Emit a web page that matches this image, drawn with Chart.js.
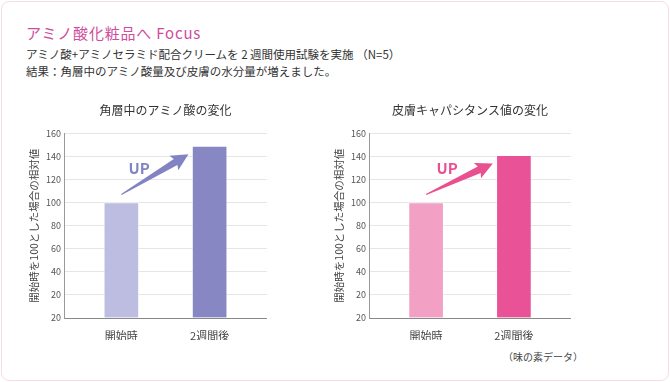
<!DOCTYPE html>
<html>
<head>
<meta charset="utf-8">
<script src="https://cdn.jsdelivr.net/npm/chart.js@4"></script>
<style>
  body { margin: 0; background: #fff; font-family: "Noto Sans CJK JP", "Noto Sans", sans-serif; }
  #card { position: absolute; left: 1px; top: 1px; width: 666px; height: 378px; border: 1px solid #f3dde8; border-radius: 8px; background: #fff; }
  #head { position: absolute; left: 26px; top: 22px; font-size: 15px; letter-spacing: 0.8px; color: #cf4c9c; white-space: nowrap; }
  .sub { position: absolute; left: 26px; font-size: 11.5px; color: #333; white-space: nowrap; }
  #note { position: absolute; left: 503px; top: 349px; font-size: 10px; color: #444; white-space: nowrap; }
  .box { position: absolute; top: 95px; height: 245px; }
</style>
</head>
<body>
<div id="card"></div>
<div id="head">アミノ酸化粧品へ Focus</div>
<div class="sub" style="top:46px">アミノ酸+アミノセラミド配合クリームを 2 週間使用試験を実施 （N=5）</div>
<div class="sub" style="top:63px">結果：角層中のアミノ酸量及び皮膚の水分量が増えました。</div>
<div class="box" style="left:22px;width:245px"><canvas id="chartA"></canvas></div>
<div class="box" style="left:327px;width:244px"><canvas id="chartB"></canvas></div>
<div id="note">（味の素データ）</div>
<script>
const categories = ['開始時', '2週間後'];
const aminoValues = [100, 149];
const capacitanceValues = [100, 141];
const yTickLabels = ['20', '20', '40', '60', '80', '100', '120', '140', '160'];

const FONT = '"Noto Sans CJK JP", "Noto Sans", sans-serif';

// tapered "UP" arrow drawn from the first bar toward the second one
const upArrow = {
    id: 'upArrow',
    afterDatasetsDraw(chart, args, opts) {
        const x = chart.scales.x, y = chart.scales.y;
        const vals = chart.data.datasets[0].data;
        const x0 = x.getPixelForValue(0), y0 = y.getPixelForValue(vals[0].y + 7);
        const x1 = x.getPixelForValue(0.76), y1 = y.getPixelForValue(vals[1].y - 7);
        const dx = x1 - x0, dy = y1 - y0, len = Math.hypot(dx, dy);
        const ux = dx / len, uy = dy / len, nx = -uy, ny = ux;
        const bx = x1 - ux * 15, by = y1 - uy * 15;
        const c = chart.ctx;
        c.save();
        c.fillStyle = opts.color;
        c.beginPath();
        c.moveTo(x0 + nx * 0.5, y0 + ny * 0.5);
        c.lineTo(bx + nx * 3.5, by + ny * 3.5);
        c.lineTo(bx - ux * 2 + nx * 8.5, by - uy * 2 + ny * 8.5);
        c.lineTo(x1, y1);
        c.lineTo(bx - ux * 2 - nx * 8.5, by - uy * 2 - ny * 8.5);
        c.lineTo(bx - nx * 3.5, by - ny * 3.5);
        c.lineTo(x0 - nx * 0.5, y0 - ny * 0.5);
        c.closePath();
        c.fill();
        c.font = 'bold 15px ' + FONT;
        c.textAlign = 'center';
        c.textBaseline = 'middle';
        c.fillText('UP', x.getPixelForValue(opts.textX), y.getPixelForValue(130));
        c.restore();
    }
};

function makeChart(id, title, values, colors, arrowColor, textX) {
    return new Chart(document.getElementById(id), {
        type: 'bar',
        data: {
            datasets: [{
                data: values.map((v, i) => ({ x: i, y: v })),
                backgroundColor: colors,
                borderColor: 'rgba(255,255,255,0.35)',
                borderWidth: 1,
                barThickness: 35
            }]
        },
        options: {
            responsive: true,
            maintainAspectRatio: false,
            animation: false,
            layout: { padding: 0 },
            plugins: {
                legend: { display: false },
                tooltip: { enabled: false },
                title: {
                    display: true,
                    text: title,
                    fullSize: false,
                    color: '#333',
                    font: { size: 12, family: FONT, weight: 'normal' },
                    padding: { top: 8, bottom: 16 }
                },
                upArrow: { color: arrowColor, textX: textX }
            },
            scales: {
                x: {
                    type: 'linear',
                    min: -0.65,
                    max: 1.65,
                    offset: false,
                    afterBuildTicks: s => { s.ticks = categories.map((c, i) => ({ value: i })); },
                    afterFit: s => { s.height = 22; },
                    grid: { display: false },
                    border: { display: true, color: '#888' },
                    ticks: {
                        callback: v => categories[v],
                        color: '#444',
                        padding: 3,
                        maxRotation: 0,
                        font: { size: 11, family: FONT }
                    }
                },
                y: {
                    min: 0,
                    max: 160,
                    afterFit: s => { s.width = 42; },
                    grid: { color: '#e6e6e6', drawTicks: false },
                    border: { color: '#999' },
                    title: {
                        display: true,
                        text: '開始時を100とした場合の相対値',
                        color: '#444',
                        font: { size: 10.5, family: FONT },
                        padding: { top: 6, bottom: 0 }
                    },
                    ticks: {
                        stepSize: 20,
                        padding: 3,
                        color: '#555',
                        font: { size: 9, family: FONT },
                        callback: (v, i) => yTickLabels[i]
                    }
                }
            }
        },
        plugins: [upArrow]
    });
}

makeChart('chartA', '角層中のアミノ酸の変化', aminoValues, ['#bcbde0', '#8788c3'], '#8183c2', 0.2);
makeChart('chartB', '皮膚キャパシタンス値の変化', capacitanceValues, ['#f2a0c4', '#e95296'], '#e8508f', 0.24);
</script>
</body>
</html>
